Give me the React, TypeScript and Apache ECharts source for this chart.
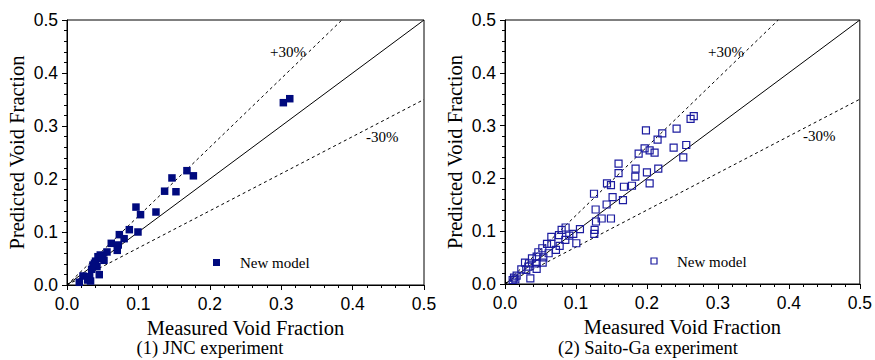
import React, { useEffect, useRef } from "react";
import * as echarts from "echarts";

// JNC experiment: [measured, predicted]
const jncData: number[][] = [
  [0.303, 0.344], [0.312, 0.3515], [0.168, 0.2157], [0.177, 0.206], [0.147, 0.202],
  [0.1367, 0.177], [0.1526, 0.176], [0.0966, 0.147], [0.103, 0.1327], [0.1246, 0.1377],
  [0.0873, 0.1044], [0.0994, 0.1], [0.0733, 0.095], [0.08, 0.0874], [0.062, 0.0786],
  [0.0718, 0.0755], [0.0704, 0.0654], [0.056, 0.0623], [0.0518, 0.0466], [0.0434, 0.0534],
  [0.0466, 0.0566], [0.042, 0.0346], [0.0364, 0.0377], [0.0345, 0.0296], [0.0452, 0.0195],
  [0.0317, 0.0157], [0.0224, 0.017], [0.0172, 0.0051], [0.0289, 0.0094], [0.033, 0.0075],
  [0.04, 0.045], [0.048, 0.05], [0.05, 0.055], [0.0385, 0.041],
];

// Saito-Ga experiment: [measured, predicted]
const saitoData: number[][] = [
  [0.266, 0.318], [0.2615, 0.3127], [0.2418, 0.2943], [0.2216, 0.2854], [0.215, 0.2734],
  [0.1986, 0.2911], [0.1967, 0.257], [0.1883, 0.2468], [0.2038, 0.2532], [0.2108, 0.2487],
  [0.2376, 0.2582], [0.2554, 0.2633], [0.2512, 0.2399], [0.216, 0.2184], [0.2, 0.2114],
  [0.2038, 0.1905], [0.184, 0.2184], [0.1836, 0.2032], [0.1789, 0.1861], [0.1676, 0.1842],
  [0.1662, 0.1589], [0.16, 0.2278], [0.16, 0.2101], [0.1437, 0.1905], [0.1493, 0.1873],
  [0.1516, 0.1646], [0.1432, 0.1506], [0.1254, 0.1709], [0.1277, 0.1411], [0.1282, 0.1184],
  [0.1362, 0.1241], [0.1493, 0.1241], [0.1263, 0.1025], [0.1258, 0.0949], [0.1056, 0.1038],
  [0.1005, 0.0772], [0.0962, 0.0949], [0.0906, 0.0918], [0.0854, 0.107], [0.0798, 0.1025],
  [0.0761, 0.0924], [0.085, 0.0835], [0.077, 0.0722], [0.0718, 0.0646], [0.0653, 0.0892],
  [0.0653, 0.0759], [0.0592, 0.0759], [0.0615, 0.0582], [0.0526, 0.0677], [0.054, 0.0506],
  [0.0531, 0.0405], [0.047, 0.0601], [0.0446, 0.0519], [0.0446, 0.0392], [0.0446, 0.0285],
  [0.038, 0.0487], [0.0338, 0.0392], [0.0282, 0.0405], [0.0329, 0.0329], [0.03, 0.0266],
  [0.023, 0.0278], [0.0357, 0.0108], [0.0164, 0.0158], [0.0127, 0.012], [0.0108, 0.0076],
  [0.0146, 0.0089],
];

const diagLine: number[][] = [[0, 0], [0.5, 0.5]];
const plus30Line: number[][] = [[0, 0], [0.385, 0.5]];
const minus30Line: number[][] = [[0, 0], [0.5, 0.35]];

const legendLabel = "New model";
const xTitle = "Measured Void Fraction";
const yTitle = "Predicted Void Fraction";
const captions = ["(1) JNC experiment", "(2) Saito-Ga experiment"];

const SERIF = "Liberation Serif, Times New Roman, serif";
const SANS = "Liberation Sans, Arial, sans-serif";

function makeAxes(gridIndex: number) {
  const common = {
    gridIndex,
    type: "value" as const,
    min: 0,
    max: 0.5,
    interval: 0.1,
    axisLine: { show: true, lineStyle: { color: "#000", width: 1 } },
    axisTick: { show: true, inside: false, length: 5, lineStyle: { color: "#000" } },
    minorTick: { show: true, splitNumber: 5, length: 3, lineStyle: { color: "#000" } },
    splitLine: { show: false },
    nameLocation: "middle" as const,
    nameTextStyle: { fontFamily: SERIF, fontSize: 20.5, color: "#000", lineHeight: 21 },
  };
  const x = {
    ...common,
    name: xTitle,
    nameGap: 27,
    axisLabel: {
      fontFamily: SANS,
      fontSize: 17.5,
      color: "#000",
      margin: 10,
      formatter: (v: number) => v.toFixed(1),
    },
  };
  const y = {
    ...common,
    name: yTitle,
    nameGap: 40,
    axisLabel: {
      fontFamily: SANS,
      fontSize: 17.5,
      color: "#000",
      margin: 9,
      formatter: (v: number) => v.toFixed(1),
    },
  };
  return { x, y };
}

function refLines(idx: number) {
  return [
    {
      type: "line",
      xAxisIndex: idx,
      yAxisIndex: idx,
      data: diagLine,
      symbol: "none",
      lineStyle: { color: "#000", width: 1 },
      silent: true,
      z: 1,
    },
    {
      type: "line",
      xAxisIndex: idx,
      yAxisIndex: idx,
      data: plus30Line,
      symbol: "none",
      lineStyle: { color: "#000", width: 1, type: [3, 3] },
      silent: true,
      z: 1,
    },
    {
      type: "line",
      xAxisIndex: idx,
      yAxisIndex: idx,
      data: minus30Line,
      symbol: "none",
      lineStyle: { color: "#000", width: 1, type: [3, 3] },
      silent: true,
      z: 1,
    },
  ];
}

export default function App() {
  const ref = useRef<HTMLDivElement>(null);

  useEffect(() => {
    if (!ref.current) return;
    const chart = echarts.init(ref.current, undefined, { renderer: "svg" });
    const a0 = makeAxes(0);
    const a1 = makeAxes(1);
    const annoStyle = { fontFamily: SERIF, fontSize: 15, fill: "#000" };
    const capStyle = { fontFamily: SERIF, fontSize: 18.5, fill: "#000", align: "center", verticalAlign: "middle", lineHeight: 19 };
    chart.setOption({
      animation: false,
      backgroundColor: "#fff",
      grid: [
        { left: 67, top: 20, width: 357, height: 265, show: true, borderColor: "#000", borderWidth: 1, backgroundColor: "transparent" },
        { left: 505, top: 20, width: 355, height: 264, show: true, borderColor: "#000", borderWidth: 1, backgroundColor: "transparent" },
      ],
      xAxis: [a0.x, a1.x],
      yAxis: [a0.y, a1.y],
      series: [
        ...refLines(0),
        ...refLines(1),
        {
          type: "scatter",
          name: "JNC",
          xAxisIndex: 0,
          yAxisIndex: 0,
          data: jncData,
          symbol: "rect",
          symbolSize: 7.5,
          itemStyle: { color: "#000a7e", opacity: 1 },
          z: 3,
        },
        {
          type: "scatter",
          name: "Saito-Ga",
          xAxisIndex: 1,
          yAxisIndex: 1,
          data: saitoData,
          symbol: "rect",
          symbolSize: 7,
          itemStyle: { color: "rgba(255,255,255,0)", borderColor: "#1c1ca0", borderWidth: 1.2, opacity: 1 },
          z: 3,
        },
      ],
      graphic: [
        { type: "text", left: 270, top: 44, style: { ...annoStyle, text: "+30%" } },
        { type: "text", left: 366, top: 129, style: { ...annoStyle, text: "-30%" } },
        { type: "text", left: 708, top: 44, style: { ...annoStyle, text: "+30%" } },
        { type: "text", left: 803, top: 128, style: { ...annoStyle, text: "-30%" } },
        { type: "rect", shape: { x: 213, y: 259, width: 7, height: 7 }, style: { fill: "#000a7e" } },
        { type: "text", left: 240, top: 255, style: { ...annoStyle, text: legendLabel } },
        { type: "rect", shape: { x: 651, y: 258, width: 6, height: 6 }, style: { fill: "none", stroke: "#1c1ca0", lineWidth: 1.2 } },
        { type: "text", left: 677, top: 254, style: { ...annoStyle, text: legendLabel } },
        { type: "text", x: 210, y: 348, style: { ...capStyle, text: captions[0] } },
        { type: "text", x: 648, y: 348, style: { ...capStyle, text: captions[1] } },
      ],
    });
    return () => chart.dispose();
  }, []);

  return (
    <div
      ref={ref}
      style={{ position: "fixed", left: 0, top: 0, width: 875, height: 360, background: "#fff" }}
    />
  );
}
